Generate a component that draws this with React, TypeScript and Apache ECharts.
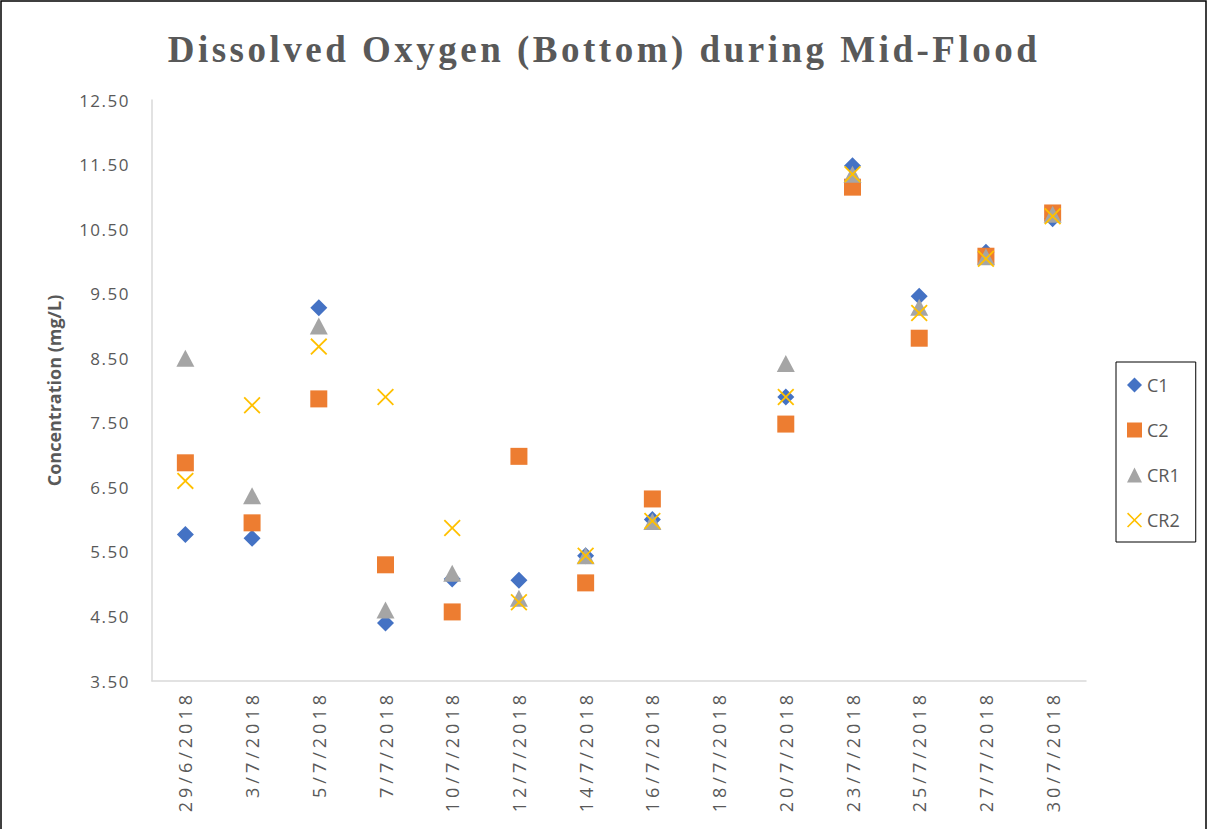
import React, { useEffect, useRef } from "react";
import * as echarts from "echarts";

const categories = [
  "29/6/2018", "3/7/2018", "5/7/2018", "7/7/2018", "10/7/2018", "12/7/2018", "14/7/2018",
  "16/7/2018", "18/7/2018", "20/7/2018", "23/7/2018", "25/7/2018", "27/7/2018", "30/7/2018",
];
const c1 = [5.77, 5.71, 9.28, 4.4, 5.08, 5.06, 5.44, 6.0, null, 7.9, 11.48, 9.46, 10.14, 10.66];
const c2 = [6.88, 5.95, 7.87, 5.3, 4.57, 6.98, 5.02, 6.32, null, 7.48, 11.15, 8.81, 10.08, 10.75];
const cr1 = [8.5, 6.37, 9.0, 4.6, 5.17, 4.78, 5.44, 5.97, null, 8.42, 11.35, 9.29, 10.07, 10.73];
const cr2 = [6.6, 7.77, 8.68, 7.9, 5.87, 4.72, 5.44, 5.98, null, 7.9, 11.35, 9.2, 10.04, 10.7];

const TITLE = "Dissolved Oxygen (Bottom) during Mid-Flood";
const X_SYMBOL =
  "path://M1.5,0 L10,8.5 L18.5,0 L20,1.5 L11.5,10 L20,18.5 L18.5,20 L10,11.5 L1.5,20 L0,18.5 L8.5,10 L0,1.5 Z";

export default function App() {
  const ref = useRef<HTMLDivElement>(null);
  useEffect(() => {
    if (!ref.current) return;
    const chart = echarts.init(ref.current, null, { renderer: "svg" });
    const textColor = "#595959";
    const option = {
      animation: false,
      backgroundColor: "#ffffff",
      title: {
        text: TITLE,
        left: "center",
        top: 26,
        textStyle: {
          fontFamily: "Liberation Serif",
          fontWeight: "bold",
          fontSize: 37,
          color: textColor,
        },
      },
      graphic: [
        {
          type: "rect",
          shape: { x: 1, y: 1, width: 1205, height: 900 },
          style: { fill: "none", stroke: "#000000", lineWidth: 1.5 },
          silent: true,
        },
      ],
      legend: {
        orient: "vertical",
        left: 1116,
        top: 362,
        padding: [14, 16, 13, 11],
        itemGap: 27,
        itemWidth: 15,
        itemHeight: 15,
        borderColor: "#000000",
        borderWidth: 1,
        textStyle: { fontFamily: "Open Sans", fontSize: 18, color: textColor },
        data: ["C1", "C2", "CR1", "CR2"],
      },
      grid: { left: 152, right: 122, top: 100, bottom: 148 },
      xAxis: {
        type: "category",
        data: categories,
        boundaryGap: true,
        axisLine: { show: true, lineStyle: { color: "#d9d9d9", width: 1.5 } },
        axisTick: { show: false },
        splitLine: { show: false },
        axisLabel: {
          rotate: 90,
          interval: 0,
          margin: 10,
          fontFamily: "Open Sans",
          fontSize: 18,
          color: textColor,
        },
      },
      yAxis: {
        type: "value",
        min: 3.5,
        max: 12.5,
        interval: 1,
        name: "Concentration (mg/L)",
        nameLocation: "middle",
        nameRotate: 90,
        nameGap: 89,
        nameTextStyle: {
          fontFamily: "Open Sans",
          fontWeight: "bold",
          fontSize: 18,
          color: textColor,
        },
        axisLine: { show: true, lineStyle: { color: "#d9d9d9", width: 1.5 } },
        axisTick: { show: false },
        splitLine: { show: false },
        axisLabel: {
          margin: 22,
          fontFamily: "Open Sans",
          fontSize: 17,
          color: textColor,
          formatter: (v: number) => v.toFixed(2),
        },
      },
      series: [
        {
          name: "C1",
          type: "scatter",
          data: c1,
          symbol: "diamond",
          symbolSize: 17,
          itemStyle: { color: "#4472C4", opacity: 1 },
        },
        {
          name: "C2",
          type: "scatter",
          data: c2,
          symbol: "rect",
          symbolSize: 17,
          itemStyle: { color: "#ED7D31", opacity: 1 },
        },
        {
          name: "CR1",
          type: "scatter",
          data: cr1,
          symbol: "triangle",
          symbolSize: [18, 17],
          itemStyle: { color: "#A5A5A5", opacity: 1 },
        },
        {
          name: "CR2",
          type: "scatter",
          data: cr2,
          symbol: X_SYMBOL,
          symbolSize: 17,
          itemStyle: { color: "#FFC000", opacity: 1 },
        },
      ],
    };
    chart.setOption(option as any);

    const applySpacing = () => {
      const el = ref.current;
      if (!el) return;
      el.querySelectorAll("text").forEach((t) => {
        const s = (t.textContent || "").replace(/\s+/g, "");
        let sp = "0px";
        if (s.indexOf("/2018") >= 0) sp = "4px";
        else if (s === TITLE.replace(/\s+/g, "")) sp = "3.5px";
        else if (/^\d+\.\d\d$/.test(s)) sp = "1.5px";
        if (t.getAttribute("letter-spacing") !== sp) t.setAttribute("letter-spacing", sp);
      });
    };
    applySpacing();
    chart.on("finished", applySpacing);
    const obs = new MutationObserver(() => applySpacing());
    obs.observe(ref.current, { childList: true, subtree: true, characterData: true });

    return () => {
      obs.disconnect();
      chart.dispose();
    };
  }, []);

  return (
    <div
      ref={ref}
      style={{ position: "absolute", left: 0, top: 0, width: 1208, height: 829 }}
    />
  );
}
